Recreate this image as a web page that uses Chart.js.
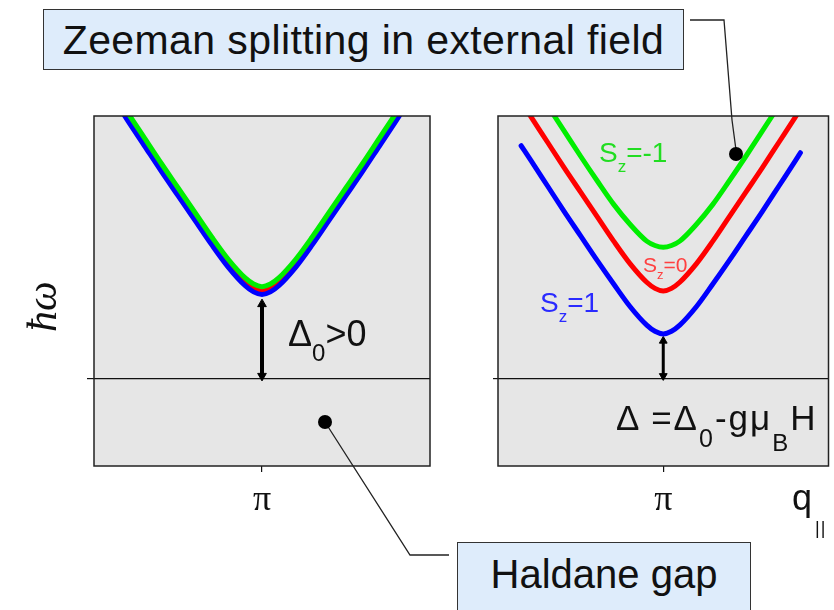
<!DOCTYPE html>
<html>
<head>
<meta charset="utf-8">
<script src="https://cdn.jsdelivr.net/npm/chart.js@4.4.1/dist/chart.umd.min.js"></script>
<style>
  html, body { margin: 0; padding: 0; background: #fff; }
  #stage { position: relative; width: 834px; height: 610px; overflow: hidden;
           font-family: 'Liberation Sans', Arial, sans-serif; color: #111; }
  canvas { position: absolute; }
  #gapChart { left: 0; top: 100px; }
  #zeemanChart { left: 440px; top: 100px; }
  .box { position: absolute; box-sizing: border-box; background: #deecfb;
         border: 1.5px solid #333; font-size: 40px; line-height: 1; text-align: center; }
  .lbl { position: absolute; white-space: nowrap; line-height: 1; }
  .lbl sub { vertical-align: baseline; position: relative; }
  #leaders { position: absolute; left: 0; top: 0; }
</style>
</head>
<body>
<div id="stage">
  <canvas id="gapChart" width="440" height="440"></canvas>
  <canvas id="zeemanChart" width="394" height="440"></canvas>

  <div class="box" style="left:43px; top:9px; width:641px; height:61px; padding-top:10px; font-size:41px; letter-spacing:0.4px;">Zeeman splitting in external field</div>
  <div class="box" style="left:457px; top:542px; width:294px; height:90px; padding-top:11px;">Haldane gap</div>

  <div class="lbl" style="left:18px; top:332px; font: italic 42px 'Liberation Serif', serif; transform-origin:0 0; transform: rotate(-90deg);">ħω</div>

  <div class="lbl" style="left:288px; top:316px; font-size:36px;">Δ<sub style="font-size:24px; top:15px;">0</sub>&gt;0</div>
  <div class="lbl" style="left:616px; top:400px; font-size:35px; letter-spacing:2px;">Δ =Δ<sub style="font-size:25px; top:17px;">0</sub>-gμ<sub style="font-size:24px; top:21px;">B</sub>H</div>

  <div class="lbl" style="left:599px; top:139px; font-size:28px; color:#22dd22;">S<sub style="font-size:17px; top:10px;">z</sub>=-1</div>
  <div class="lbl" style="left:643px; top:254px; font-size:21px; color:#ff4040;">S<sub style="font-size:13px; top:7px;">z</sub>=0</div>
  <div class="lbl" style="left:540px; top:289px; font-size:28px; color:#2a2aff;">S<sub style="font-size:17px; top:10px;">z</sub>=1</div>

  <div class="lbl" style="left:792px; top:480px; font-size:36px;">q</div>
  <div class="lbl" style="left:815px; top:519px; font-size:18px; letter-spacing:1px;">||</div>

  <svg id="leaders" width="834" height="610">
    <polyline points="690,20 724,20 732,120 736,150" fill="none" stroke="#222" stroke-width="1.3"/>
    <circle cx="736" cy="154" r="7" fill="#000"/>
    <polyline points="325,422 410,555 449,555" fill="none" stroke="#222" stroke-width="1.3"/>
    <circle cx="325" cy="422" r="7" fill="#000"/>
  </svg>
</div>

<script>
// momentum along the chain, in units of pi
const qGrid = [0.5, 0.55, 0.6, 0.65, 0.7, 0.75, 0.8, 0.85, 0.9, 0.95, 0.975, 1,
               1.025, 1.05, 1.1, 1.15, 1.2, 1.25, 1.3, 1.35, 1.4, 1.45, 1.5];

// zero field: the triplet is degenerate, Sz branches almost on top of each other
const gapSzPlus  = [3.54, 3.25, 2.95, 2.66, 2.37, 2.09, 1.81, 1.53, 1.27, 1.06, 0.99, 0.96,
                    0.99, 1.06, 1.27, 1.53, 1.81, 2.09, 2.37, 2.66, 2.95, 3.25, 3.54];
const gapSzZero  = [3.58, 3.29, 2.99, 2.70, 2.41, 2.13, 1.85, 1.57, 1.31, 1.10, 1.03, 1.00,
                    1.03, 1.10, 1.31, 1.57, 1.85, 2.13, 2.41, 2.70, 2.99, 3.29, 3.58];
const gapSzMinus = [3.63, 3.34, 3.04, 2.75, 2.46, 2.18, 1.90, 1.62, 1.36, 1.15, 1.08, 1.05,
                    1.08, 1.15, 1.36, 1.62, 1.90, 2.18, 2.46, 2.75, 3.04, 3.34, 3.63];

// in field: Sz = -1 / 0 / +1 split apart
const zeemanSzMinus = [4.01, 3.71, 3.41, 3.12, 2.83, 2.54, 2.26, 1.99, 1.76, 1.57, 1.52, 1.50,
                       1.52, 1.57, 1.76, 1.99, 2.26, 2.54, 2.83, 3.12, 3.41, 3.71, 4.01];
const zeemanSzZero  = [3.58, 3.29, 2.99, 2.70, 2.41, 2.13, 1.85, 1.57, 1.31, 1.10, 1.03, 1.00,
                       1.03, 1.10, 1.31, 1.57, 1.85, 2.13, 2.41, 2.70, 2.99, 3.29, 3.58];
const qSzPlus       = [0.57, 0.6, 0.65, 0.7, 0.75, 0.8, 0.85, 0.9, 0.95, 0.975, 1,
                       1.025, 1.05, 1.1, 1.15, 1.2, 1.25, 1.3, 1.35, 1.4, 1.415];
const zeemanSzPlus  = [2.66, 2.49, 2.20, 1.91, 1.63, 1.35, 1.08, 0.82, 0.61, 0.54, 0.51,
                       0.54, 0.61, 0.82, 1.08, 1.35, 1.63, 1.91, 2.20, 2.49, 2.58];

// gap arrows at q = pi: from the ground state up to the lowest branch
const gapArrow    = [0.03, 0.85];
const zeemanArrow = [0.03, 0.43];

const xTicks = [1];
const xTickLabels = ['π'];

const BLUE  = '#0000ff';
const RED   = '#ff0000';
const GREEN = '#00ee00';
const PANEL_BG = '#e6e6e6';
const INK = '#111';

const toPoints = (xs, ys) => xs.map((x, i) => ({ x, y: ys[i] }));

const panelFrame = {
  id: 'panelFrame',
  beforeDraw(chart) {
    const { ctx, chartArea: a } = chart;
    ctx.save();
    ctx.fillStyle = PANEL_BG;
    ctx.fillRect(a.left, a.top, a.width, a.height);
    ctx.restore();
  },
  afterDraw(chart) {
    const { ctx, chartArea: a } = chart;
    ctx.save();
    ctx.strokeStyle = '#222';
    ctx.lineWidth = 1.5;
    ctx.strokeRect(a.left, a.top, a.width, a.height);
    ctx.restore();
  },
};

function branch(data, color, order) {
  return {
    type: 'line',
    data,
    borderColor: color,
    borderWidth: 5,
    borderCapStyle: 'round',
    cubicInterpolationMode: 'monotone',
    pointRadius: 0,
    clip: 0,
    order,
  };
}

function arrow(ys, width, head) {
  return {
    type: 'line',
    data: ys.map((y) => ({ x: 1, y })),
    borderColor: '#000',
    backgroundColor: '#000',
    borderWidth: width,
    pointStyle: 'triangle',
    pointRadius: head,
    pointRotation: [180, 0],
    pointBorderWidth: 1,
    order: 3,
  };
}

function makePanel(canvasId, datasets, padding, zeroTick) {
  return new Chart(document.getElementById(canvasId), {
    type: 'line',
    data: { datasets },
    plugins: [panelFrame],
    options: {
      responsive: false,
      animation: false,
      events: [],
      layout: { padding },
      plugins: { legend: { display: false }, tooltip: { enabled: false } },
      scales: {
        x: {
          type: 'linear',
          min: 0.5,
          max: 1.5,
          afterBuildTicks: (s) => { s.ticks = xTicks.map((v) => ({ value: v })); },
          afterFit: (s) => { s.height = 50; },
          ticks: {
            autoSkip: false,
            maxRotation: 0,
            padding: 7,
            color: INK,
            font: { family: "'Liberation Serif', serif", size: 36 },
            callback: (v) => xTickLabels[xTicks.indexOf(v)] ?? '',
          },
          grid: { drawOnChartArea: false, drawTicks: true, tickLength: 6, color: INK, lineWidth: 1.2 },
          border: { display: false },
        },
        y: {
          type: 'linear',
          min: -1,
          max: 3,
          afterBuildTicks: (s) => { s.ticks = [{ value: 0 }]; },
          afterFit: (s) => { s.width = 12; },
          ticks: { display: false },
          grid: { drawOnChartArea: true, drawTicks: true, tickLength: zeroTick, color: INK, lineWidth: 1.2 },
          border: { display: false },
        },
      },
    },
  });
}

makePanel('gapChart', [
  branch(toPoints(qGrid, gapSzMinus), GREEN, 0),
  branch(toPoints(qGrid, gapSzPlus), BLUE, 1),
  branch(toPoints(qGrid, gapSzZero), RED, 2),
  arrow(gapArrow, 4, 5),
], { left: 82, top: 16, right: 10, bottom: 24 }, 7);

makePanel('zeemanChart', [
  branch(toPoints(qGrid, zeemanSzMinus), GREEN, 0),
  branch(toPoints(qGrid, zeemanSzZero), RED, 1),
  branch(toPoints(qSzPlus, zeemanSzPlus), BLUE, 2),
  arrow(zeemanArrow, 3, 4.5),
], { left: 46, top: 16, right: 2, bottom: 24 }, 5);
</script>
</body>
</html>
